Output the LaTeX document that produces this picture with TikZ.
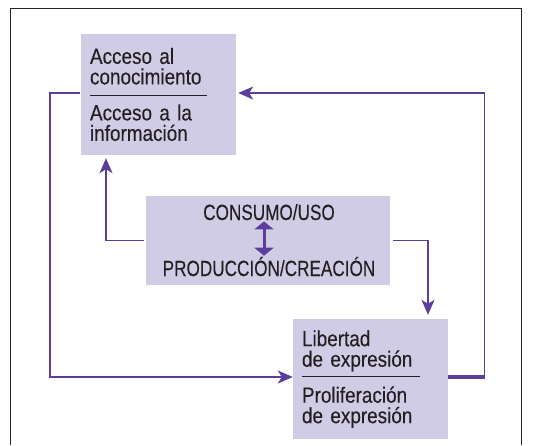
\documentclass[tikz,border=0pt]{standalone}
\usepackage{fontspec}
\setmainfont{Liberation Sans}[FakeStretch=0.86,FakeBold=0.2]
\newfontfamily\estrecha{Liberation Sans}[FakeStretch=0.78,FakeBold=0.2]
\usetikzlibrary{arrows.meta,positioning,calc}
\definecolor{lila}{RGB}{209,204,229}
\definecolor{violeta}{RGB}{91,62,155}
\definecolor{tinta}{RGB}{35,31,32}
\DeclareRobustCommand\letracaja{\fontsize{22}{20.5}\selectfont\spaceskip=3.5pt\relax}
\begin{document}
\begin{tikzpicture}[x=1pt,y=-1pt,font=\letracaja,text=tinta,
box/.style={fill=lila,align=left,inner sep=9pt,text width=137pt,minimum height=121pt},
lbl/.style={inner sep=1pt,anchor=base,font=\fontsize{22}{20.5}\estrecha},
flow/.style={draw=violeta,line width=1.4pt,-{Stealth[length=15pt,width=13pt,inset=4pt]}},
dbl/.style={draw=violeta,line width=3pt,{Triangle[width=19pt,length=8pt]}-{Triangle[width=19pt,length=8pt]}}]
\useasboundingbox (0,0) rectangle (534,445);
\draw[line width=1pt,black!85] (10,445) -- (10,8) -- (521,8) -- (521,445);
\node[box] (acc) at (158.5,94.5) {Acceso al\\conocimiento\\[-9pt]\rule{117pt}{0.8pt}\\[4pt]Acceso a la\\información};
\node[box,minimum height=120pt] (lib) at (370.5,379) {Libertad\\de expresión\\[-10pt]\rule{118pt}{0.8pt}\\[5pt]Proliferación\\de expresión};
\node[fill=lila,minimum width=244pt,minimum height=89pt] (uso) at (268,240.5) {};
\node[lbl] (cons) at (269,220) {CONSUMO/USO};
\node[lbl] (prod) at (269,276) {PRODUCCIÓN/CREACIÓN};
\draw[dbl] ([xshift=-5pt]cons.south) -- ([xshift=-5pt]prod.north);
% bucles exteriores
\draw[flow,shorten <=1pt] ([yshift=1.5pt]acc.west) -- ++(-31,0) |- ([yshift=2pt]lib.west);
\draw[violeta,line width=4.5pt] ([yshift=2pt]lib.east) -- ++(36.6,0) coordinate (esq);
\draw[flow,shorten >=2pt] ([xshift=-0.6pt]esq) |- ([yshift=1.5pt]acc.east);
% desde el centro
\draw[flow,shorten <=2pt,shorten >=3pt] (uso.west) -| ([xshift=-52.5pt]acc.south);
\draw[flow,shorten <=3pt,shorten >=4pt] (uso.east) -| ([xshift=57.5pt]lib.north);
\end{tikzpicture}
\end{document}
